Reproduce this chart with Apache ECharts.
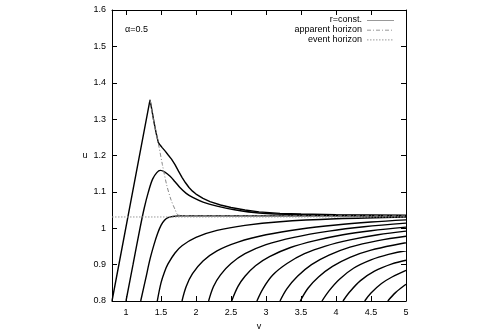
<!DOCTYPE html>
<html>
<head>
<meta charset="utf-8">
<script src="https://cdn.jsdelivr.net/npm/echarts@6/dist/echarts.min.js"></script>
<style>
  html, body { margin: 0; padding: 0; background: #fff; }
  #chart { width: 480px; height: 336px; }
</style>
</head>
<body>
<div id="chart"></div>
<script>
// tick labels
var vTicks = [1, 1.5, 2, 2.5, 3, 3.5, 4, 4.5, 5];
var uTicks = [0.8, 0.9, 1, 1.1, 1.2, 1.3, 1.4, 1.5, 1.6];

// r = const. curves, [v, u]
var curveA = [[0.8, 0.8], [1.343, 1.353], [1.37, 1.325], [1.4, 1.292], [1.43, 1.262], [1.461, 1.236],
  [1.49, 1.228], [1.52, 1.221], [1.56, 1.212], [1.6, 1.202], [1.65, 1.19], [1.7, 1.175], [1.75, 1.157],
  [1.8, 1.14], [1.85, 1.125], [1.9, 1.112], [1.95, 1.102], [2.0, 1.094], [2.1, 1.082], [2.2, 1.073],
  [2.35, 1.064], [2.5, 1.057], [2.7, 1.05], [2.9, 1.045], [3.2, 1.041], [3.5, 1.039], [4.0, 1.037],
  [5, 1.036]];
var curveB = [[1.0, 0.8], [1.1, 0.9], [1.2, 1.0], [1.26, 1.055], [1.32, 1.1], [1.38, 1.135],
  [1.44, 1.153], [1.49, 1.159], [1.55, 1.155], [1.63, 1.143], [1.7, 1.128], [1.77, 1.112],
  [1.86, 1.096], [1.96, 1.084], [2.1, 1.072], [2.3, 1.061], [2.55, 1.051], [2.9, 1.042],
  [3.5, 1.037], [4.2, 1.035], [5, 1.034]];
var curveC = [[1.21, 0.8], [1.28, 0.86], [1.343, 0.915], [1.4, 0.955], [1.45, 0.985], [1.5, 1.008],
  [1.55, 1.022], [1.6, 1.029], [1.66, 1.032], [1.75, 1.034], [2.0, 1.034], [5, 1.034]];
var curveD = [[1.447, 0.8], [1.5, 0.85], [1.55, 0.88], [1.6, 0.902], [1.7, 0.932], [1.8, 0.952],
  [2.0, 0.975], [2.3, 0.994], [2.7, 1.008], [3.2, 1.018], [4.0, 1.026], [5, 1.031]];
var curveE = [[1.8, 0.8], [1.86, 0.84], [1.95, 0.875], [2.1, 0.91], [2.3, 0.938], [2.6, 0.962],
  [3.0, 0.982], [3.5, 0.998], [4.0, 1.009], [4.5, 1.017], [5, 1.023]];
var curveF = [[2.18, 0.8], [2.25, 0.84], [2.35, 0.872], [2.5, 0.903], [2.7, 0.93], [3.0, 0.955],
  [3.4, 0.975], [3.9, 0.992], [4.4, 1.004], [5, 1.014]];
var curveG = [[2.51, 0.8], [2.6, 0.84], [2.7, 0.868], [2.85, 0.897], [3.05, 0.922], [3.35, 0.947],
  [3.7, 0.966], [4.1, 0.982], [4.5, 0.993], [5, 1.003]];
var curveH = [[2.87, 0.8], [2.96, 0.835], [3.1, 0.872], [3.3, 0.903], [3.55, 0.93], [3.85, 0.951],
  [4.2, 0.968], [4.6, 0.982], [5, 0.992]];
var curveI = [[3.2, 0.8], [3.3, 0.834], [3.45, 0.868], [3.65, 0.9], [3.9, 0.926], [4.2, 0.948],
  [4.6, 0.966], [5, 0.978]];
var curveJ = [[3.49, 0.8], [3.6, 0.835], [3.75, 0.866], [3.95, 0.895], [4.2, 0.92], [4.5, 0.94], [5, 0.96]];
var curveK = [[3.8, 0.8], [3.9, 0.828], [4.05, 0.86], [4.25, 0.89], [4.5, 0.913], [4.75, 0.928], [5, 0.938]];
var curveL = [[4.1, 0.8], [4.2, 0.826], [4.35, 0.856], [4.55, 0.882], [4.8, 0.902], [5, 0.912]];
var curveM = [[4.41, 0.8], [4.5, 0.822], [4.65, 0.848], [4.8, 0.866], [5, 0.884]];
var curveN = [[4.74, 0.8], [4.85, 0.823], [5, 0.846]];

var apparentHorizon = [[1.343, 1.353], [1.4, 1.29], [1.46, 1.235], [1.52, 1.175], [1.58, 1.12],
  [1.64, 1.08], [1.7, 1.052], [1.75, 1.036], [2.0, 1.034], [5, 1.034]];
var eventHorizon = [[0.8, 1.031], [5, 1.031]];

var rCurves = [curveB, curveC, curveD, curveE, curveF, curveG, curveH,
  curveI, curveJ, curveK, curveL, curveM, curveN];

var legendNames = ["r=const.", "apparent horizon", "event horizon"];
var legendDash = ["solid", [4, 2, 1, 2], [1.5, 1.5]];

var chart = echarts.init(document.getElementById("chart"), null, { renderer: "canvas" });
var fontFam = "Liberation Sans, Arial, sans-serif";

var series = [{
  name: "r=const.",
  type: "line",
  data: curveA,
  symbol: "none",
  smooth: false,
  lineStyle: { color: "#000", width: 1.4 },
  silent: true
}];
rCurves.forEach(function(c) {
  series.push({
    name: "r=const.",
    type: "line",
    data: c,
    symbol: "none",
    smooth: 0.35,
    lineStyle: { color: "#000", width: 1.4 },
    silent: true
  });
});
series.push({
  name: "apparent horizon",
  type: "line",
  data: apparentHorizon,
  symbol: "none",
  smooth: 0.3,
  lineStyle: { color: "#888", width: 1, type: legendDash[1] },
  silent: true
});
series.push({
  name: "event horizon",
  type: "line",
  data: eventHorizon,
  symbol: "none",
  lineStyle: { color: "#999", width: 1, type: legendDash[2] },
  silent: true
});

// legend drawn as text + sample line, top right inside the frame
var graphics = [{
  type: "text",
  left: 125,
  top: 25,
  style: { text: "α=0.5", fontSize: 9, fill: "#000", fontFamily: fontFam }
}];
legendNames.forEach(function(name, i) {
  var y = 20 + i * 9.7;
  graphics.push({
    type: "text",
    x: 362,
    y: y,
    style: { text: name, fontSize: 9, fill: "#000", fontFamily: fontFam, align: "right", verticalAlign: "middle" }
  });
  graphics.push({
    type: "line",
    shape: { x1: 367, y1: y + 0.5, x2: 394, y2: y + 0.5 },
    style: { stroke: "#999", lineWidth: 1, lineDash: legendDash[i] === "solid" ? null : legendDash[i] }
  });
});

var tickStyle = { show: true, inside: true, length: 5, lineStyle: { color: "#000", width: 1 } };

chart.setOption({
  animation: false,
  backgroundColor: "#fff",
  textStyle: { fontFamily: fontFam },
  grid: { left: 112, right: 74, top: 10, bottom: 31 },
  graphic: graphics,
  xAxis: [{
    type: "value",
    min: 0.8,
    max: 5,
    name: "v",
    nameLocation: "middle",
    nameGap: 21,
    nameTextStyle: { fontSize: 9, color: "#000" },
    axisLine: { show: true, lineStyle: { color: "#000", width: 1 } },
    axisTick: Object.assign({ customValues: vTicks }, tickStyle),
    axisLabel: { customValues: vTicks, fontSize: 9, color: "#000", margin: 7 },
    splitLine: { show: false }
  }, {
    type: "value",
    position: "top",
    min: 0.8,
    max: 5,
    axisLine: { show: true, lineStyle: { color: "#000", width: 1 } },
    axisTick: Object.assign({ customValues: vTicks }, tickStyle),
    axisLabel: { show: false },
    splitLine: { show: false }
  }],
  yAxis: [{
    type: "value",
    min: 0.8,
    max: 1.6,
    name: "u",
    nameLocation: "middle",
    nameRotate: 0,
    nameGap: 20,
    nameTextStyle: { fontSize: 9, color: "#000" },
    axisLine: { show: true, lineStyle: { color: "#000", width: 1 } },
    axisTick: Object.assign({ customValues: uTicks }, tickStyle),
    axisLabel: { customValues: uTicks, fontSize: 9, color: "#000", margin: 6 },
    splitLine: { show: false }
  }, {
    type: "value",
    position: "right",
    min: 0.8,
    max: 1.6,
    axisLine: { show: true, lineStyle: { color: "#000", width: 1 } },
    axisTick: Object.assign({ customValues: uTicks }, tickStyle),
    axisLabel: { show: false },
    splitLine: { show: false }
  }],
  series: series
});
</script>
</body>
</html>
